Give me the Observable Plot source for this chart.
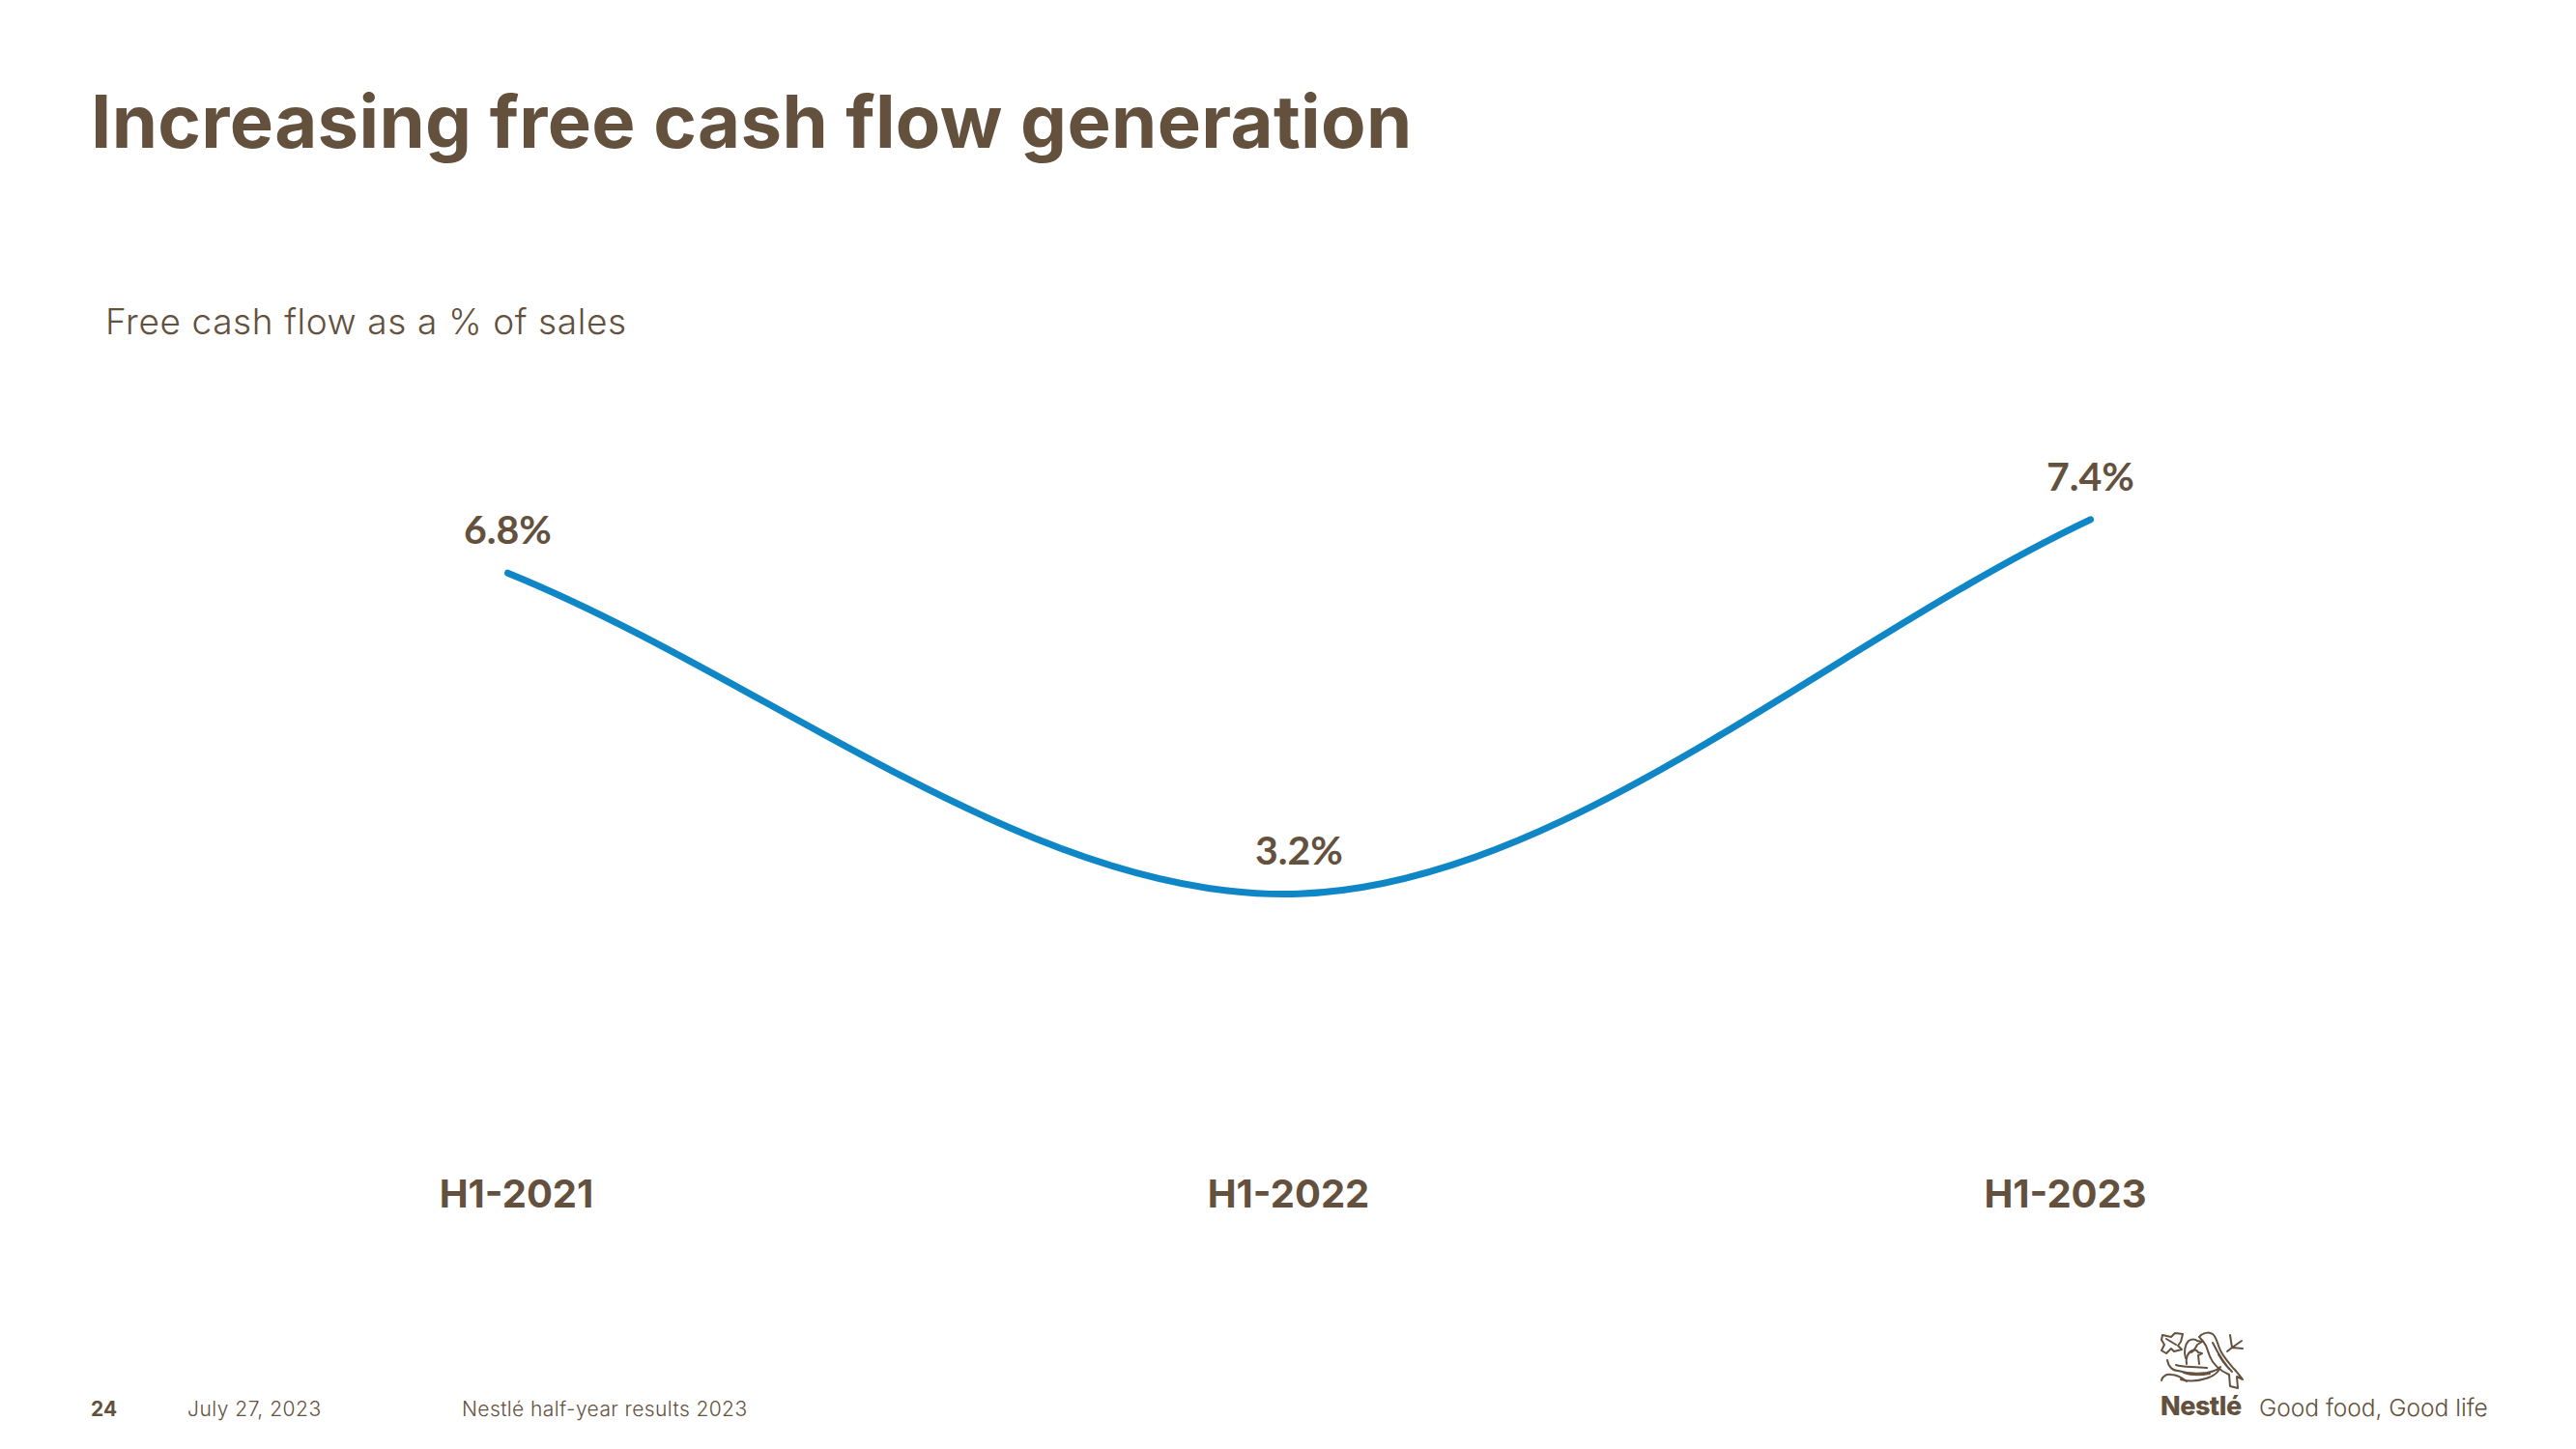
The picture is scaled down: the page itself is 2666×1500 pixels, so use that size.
<!DOCTYPE html>
<html>
<head>
<meta charset="utf-8">
<script src="https://cdn.jsdelivr.net/npm/d3@7"></script>
<script src="https://cdn.jsdelivr.net/npm/@observablehq/plot@0.6"></script>
<style>
html,body{margin:0;padding:0;background:#fff;}
body{width:2666px;height:1500px;position:relative;overflow:hidden;font-family:Inter,sans-serif;color:#63513e;}
.t{position:absolute;white-space:nowrap;line-height:1;}
#chart{position:absolute;left:0;top:0;}
#logo{position:absolute;left:2230px;top:1372px;}
</style>
</head>
<body>
<div id="chart"></div>
<div class="t" id="title" style="left:94px;top:87px;font-size:76px;font-weight:700;letter-spacing:.33px;">Increasing free cash flow generation</div>
<div class="t" id="sub" style="left:109px;top:314px;font-size:37px;font-weight:300;letter-spacing:.6px;">Free cash flow as a % of sales</div>
<div class="t" style="left:94px;top:1448px;font-size:21px;font-weight:700;">24</div>
<div class="t" style="left:194px;top:1448px;font-size:21px;font-weight:300;letter-spacing:.5px;">July 27, 2023</div>
<div class="t" style="left:478px;top:1448px;font-size:21px;font-weight:300;letter-spacing:.4px;">Nestlé half-year results 2023</div>
<svg id="logo" width="100" height="70" viewBox="0 0 100 70" fill="none" stroke="#63513e" stroke-width="2" stroke-linecap="round" stroke-linejoin="round">
  <path d="M48 10C52 7 57 7 60 9C64 12 65 20 68 26C72 34 77 39 81 44C85 48 88 52 91 56L85 53L86 65L78 63L77 51C68 47 60 40 57 32C55 27 54 23 53 21C51 17 49 15 46 12Z"/>
  <path d="M60 18C65 28 72 40 80 48M66 30C69 36 73 41 77 45"/>
  <path d="M8 10L17 12L21 8L29 9L27 17L24 21L28 25L20 27L17 24L12 29L7 26L10 20L7 15Z M12 14L22 20"/>
  <path d="M32 34C30 28 31 20 35 16C38 14 42 14 44 16L49 17L44 20C42 24 41 26 38 28"/>
  <path d="M33 40C32 34 34 28 39 26C42 25 44 26 45 28L49 29L45 31L46 40"/>
  <path d="M13 36C14 42 18 47 24 47C34 50 46 50 54 49C60 48 65 46 68 43C66 49 60 53 53 55C44 58 34 58 27 56"/>
  <path d="M7 57C8 53 12 50 17 51C23 51 28 54 33 58M22 41C30 44 40 42 54 44M30 49C38 52 46 52 57 50"/>
  <path d="M78 10L80 23L75 27M90 16L80 23M91 24L80 23"/>
</svg>
<div class="t" style="left:2236px;top:1442px;font-size:27px;font-weight:800;letter-spacing:-.5px;">Nestlé</div>
<div class="t" style="left:2338px;top:1445px;font-size:24.5px;font-weight:300;letter-spacing:0;">Good food, Good life</div>
<script>
const periods = ["H1-2021", "H1-2022", "H1-2023"];
const fcfPct = [6.8, 3.2, 7.4];
const valueLabels = ["6.8%", "3.2%", "7.4%"];
const axisNudge = [9, -11, -26];
const rows = periods.map((p, i) => ({period: p, value: fcfPct[i], label: valueLabels[i]}));
const ink = "#63513e";

// Smooth spline through the points, with the end tangents of a reflected end point.
function smoothLine(context) {
  let pts = [];
  return {
    areaStart() {}, areaEnd() {},
    lineStart() { pts = []; },
    point(x, y) { pts.push([+x, +y]); },
    lineEnd() {
      const n = pts.length;
      if (!n) return;
      const at = (i) => i < 0 ? [2 * pts[0][0] - pts[1][0], 2 * pts[0][1] - pts[1][1]]
        : i >= n ? [2 * pts[n - 1][0] - pts[n - 2][0], 2 * pts[n - 1][1] - pts[n - 2][1]] : pts[i];
      context.moveTo(pts[0][0], pts[0][1]);
      for (let i = 0; i < n - 1; i++) {
        const a = at(i - 1), b = at(i), c = at(i + 1), d = at(i + 2);
        context.bezierCurveTo(
          b[0] + (c[0] - a[0]) / 6, b[1] + (c[1] - a[1]) / 6,
          c[0] - (d[0] - b[0]) / 6, c[1] - (d[1] - b[1]) / 6,
          c[0], c[1]);
      }
    }
  };
}

const chart = Plot.plot({
  width: 2666,
  height: 1500,
  marginTop: 0,
  marginLeft: 0,
  marginRight: 0,
  marginBottom: 280,
  style: {background: "transparent", fontFamily: "Inter, sans-serif"},
  x: {type: "point", domain: periods, range: [525, 2163], padding: 0},
  y: {domain: [0, 8], range: [1220, 482], axis: null},
  marks: [
    Plot.line(rows, {x: "period", y: "value", curve: smoothLine, stroke: "#0f86c6", strokeWidth: 7, strokeLinecap: "round"}),
    Plot.text(rows, {x: "period", y: "value", text: "label", dy: -43, fontSize: 41, fontWeight: 700, fontFamily: "Lato, sans-serif", fill: ink}),
    ...periods.map((p, i) => Plot.axisX([p], {
      anchor: "bottom", label: null, tickSize: 0, tickPadding: 0, dx: axisNudge[i], dy: 1,
      fontSize: 40, fontWeight: 700, fill: ink, color: ink
    }))
  ]
});
document.getElementById("chart").appendChild(chart);
</script>
</body>
</html>
